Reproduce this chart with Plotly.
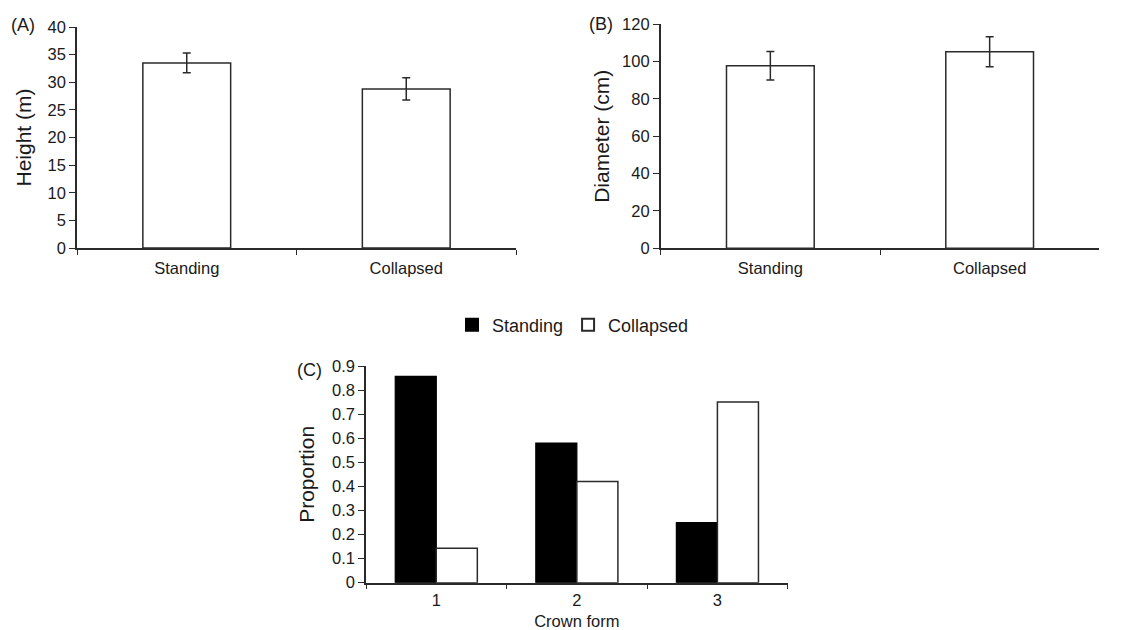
import plotly.graph_objects as go

# ---- data ----
groups = ["Standing", "Collapsed"]
height_mean = [33.5, 28.8]
height_err = [1.8, 2.0]
diam_mean = [97.8, 105.3]
diam_err = [7.6, 8.0]

crown_forms = ["1", "2", "3"]
prop_standing = [0.857, 0.58, 0.25]
prop_collapsed = [0.143, 0.42, 0.75]

# ---- style ----
W, H = 1142, 630
FONT = "Arial, Liberation Sans, sans-serif"
TXT = "#1a1a1a"
LINE = "#2a2a2a"

def px_x(x):
    return x / W

def px_y(y):
    return 1 - y / H

fig = go.Figure()

err_style = dict(type="data", visible=True, thickness=1.5, width=4, color=LINE)

fig.add_trace(go.Bar(
    x=groups, y=height_mean, width=0.4,
    marker=dict(color="white", line=dict(color=LINE, width=1.5)),
    error_y=dict(array=height_err, **err_style),
    xaxis="x", yaxis="y", showlegend=False))

fig.add_trace(go.Bar(
    x=groups, y=diam_mean, width=0.4,
    marker=dict(color="white", line=dict(color=LINE, width=1.5)),
    error_y=dict(array=diam_err, **err_style),
    xaxis="x2", yaxis="y2", showlegend=False))

bw = 0.292
fig.add_trace(go.Bar(
    x=crown_forms, y=prop_standing, width=bw, offset=-bw, name="Standing",
    marker=dict(color="black", line=dict(color="black", width=1.2)),
    xaxis="x3", yaxis="y3"))
fig.add_trace(go.Bar(
    x=crown_forms, y=prop_collapsed, width=bw, offset=0, name="Collapsed",
    marker=dict(color="white", line=dict(color=LINE, width=1.5)),
    xaxis="x3", yaxis="y3"))

tickfont = dict(family=FONT, size=16.5, color=TXT)
titlefont = dict(family=FONT, size=21, color=TXT)

def xaxis(domain, anchor, lblstandoff):
    return dict(domain=domain, anchor=anchor, type="category",
                showline=True, linecolor=LINE, linewidth=1.5,
                ticks="outside", tickson="boundaries", ticklen=5,
                tickcolor=LINE, tickwidth=1.2, automargin=False,
                ticklabelstandoff=lblstandoff,
                showgrid=False, zeroline=False, tickfont=tickfont,
                fixedrange=True)

def yaxis(domain, anchor, rng, dtick, title, standoff):
    return dict(domain=domain, anchor=anchor, range=rng, dtick=dtick,
                showline=True, linecolor=LINE, linewidth=1.5,
                ticks="outside", ticklen=6, tickcolor=LINE, tickwidth=1.2,
                showgrid=False, zeroline=False, tickfont=tickfont,
                automargin=False,
                title=dict(text=title, font=titlefont, standoff=standoff),
                fixedrange=True)

xa = xaxis([px_x(77), px_x(516)], "y", 4)
xa2 = xaxis([px_x(660.7), px_x(1099.3)], "y2", 4)
xa3 = xaxis([px_x(366), px_x(787.7)], "y3", 2)
xa3["title"] = dict(text="Crown form", font=dict(family=FONT, size=16.5, color=TXT), standoff=8)

ya = yaxis([px_y(248), px_y(27)], "x", [0, 40], 5, "Height (m)", 10)
ya2 = yaxis([px_y(248.3), px_y(24.3)], "x2", [0, 120], 20, "Diameter (cm)", 7)
ya3 = yaxis([px_y(582.7), px_y(366)], "x3", [0, 0.9], 0.1, "Proportion", 12)
ya3["tickvals"] = [0, 0.1, 0.2, 0.3, 0.4, 0.5, 0.6, 0.7, 0.8, 0.9]
ya3["ticktext"] = ["0", "0.1", "0.2", "0.3", "0.4", "0.5", "0.6", "0.7", "0.8", "0.9"]

labels = [("(A)", 23.5, 25), ("(B)", 601, 24), ("(C)", 309.7, 370)]
annotations = [dict(text=t, x=px_x(x), y=px_y(y), xref="paper", yref="paper",
                    showarrow=False, xanchor="center", yanchor="middle",
                    font=dict(family=FONT, size=18, color=TXT))
               for t, x, y in labels]

fig.update_layout(
    width=W, height=H, margin=dict(l=0, r=0, t=0, b=0, autoexpand=False),
    paper_bgcolor="white", plot_bgcolor="white",
    barmode="overlay",
    xaxis=xa, yaxis=ya, xaxis2=xa2, yaxis2=ya2, xaxis3=xa3, yaxis3=ya3,
    annotations=annotations,
    legend=dict(orientation="h", x=px_x(452), y=px_y(325), xanchor="left", yanchor="middle",
                font=dict(family=FONT, size=18, color=TXT), bgcolor="rgba(0,0,0,0)",
                itemsizing="constant", traceorder="normal"),
)

fig.write_html("out.html", config={"displayModeBar": False},
               post_script="document.body.style.margin='0';document.body.style.overflow='hidden';")
